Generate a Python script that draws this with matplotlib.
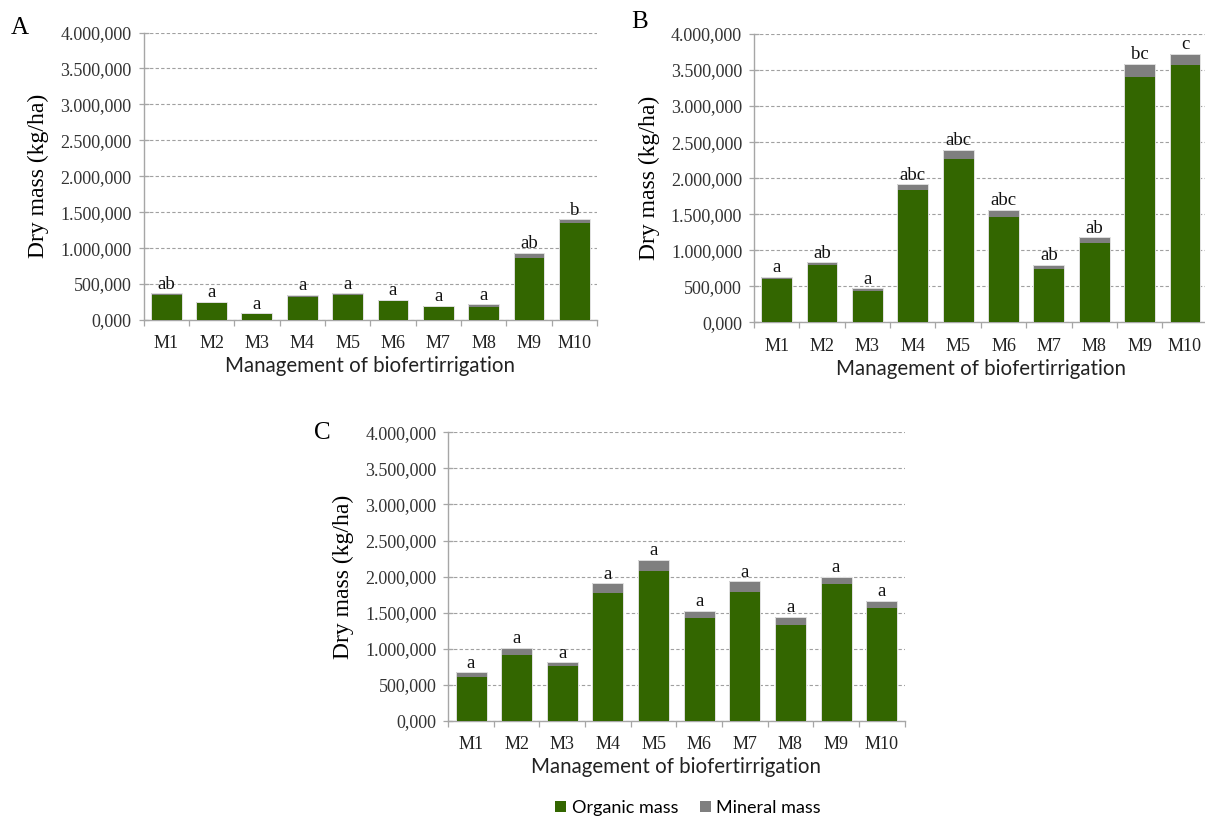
import matplotlib
matplotlib.use("Agg")
import matplotlib.pyplot as plt
from matplotlib.patches import Patch
import numpy as np

# Management treatments
categories = ["M1", "M2", "M3", "M4", "M5", "M6", "M7", "M8", "M9", "M10"]

# Panel A
organic_a = [345e3, 240e3, 80e3, 322e3, 345e3, 270e3, 190e3, 185e3, 868e3, 1350e3]
mineral_a = [25e3, 10e3, 13e3, 25e3, 25e3, 8e3, 9e3, 32e3, 67e3, 50e3]
letters_a = ["ab", "a", "a", "a", "a", "a", "a", "a", "ab", "b"]

# Panel B
organic_b = [600e3, 790e3, 435e3, 1833e3, 2260e3, 1462e3, 737e3, 1100e3, 3405e3, 3565e3]
mineral_b = [35e3, 40e3, 38e3, 80e3, 135e3, 100e3, 62e3, 78e3, 180e3, 160e3]
letters_b = ["a", "ab", "a", "abc", "abc", "abc", "ab", "ab", "bc", "c"]

# Panel C
organic_c = [613e3, 913e3, 766e3, 1772e3, 2080e3, 1421e3, 1790e3, 1324e3, 1896e3, 1568e3]
mineral_c = [60e3, 97e3, 46e3, 134e3, 148e3, 106e3, 143e3, 120e3, 102e3, 93e3]
letters_c = ["a"] * 10

y_ticks = [0, 500e3, 1000e3, 1500e3, 2000e3, 2500e3, 3000e3, 3500e3, 4000e3]
y_tick_labels = ["0,000", "500,000", "1.000,000", "1.500,000", "2.000,000",
                 "2.500,000", "3.000,000", "3.500,000", "4.000,000"]

GREEN = "#336600"
GREY = "#7f7f7f"
AXIS_GREY = "#a6a6a6"
SERIF = ["Liberation Serif", "DejaVu Serif"]
SANS = ["Lato", "DejaVu Sans"]

plt.rcParams["font.family"] = SERIF

fig = plt.figure(figsize=(12.05, 8.18), dpi=100)
W, H = 1205.0, 818.0


def px_axes(left, right, top, bottom):
    return fig.add_axes([left / W, 1 - bottom / H, (right - left) / W, (bottom - top) / H])


def draw_panel(ax, organic, mineral, letters):
    x = np.arange(len(categories))
    organic = np.asarray(organic)
    mineral = np.asarray(mineral)
    totals = organic + mineral
    ax.bar(x, organic, width=0.68, color=GREEN, linewidth=0, zorder=3)
    ax.bar(x, mineral, width=0.68, bottom=organic, color=GREY, linewidth=0, zorder=3)
    # thin light outline around each stacked column
    ax.bar(x, totals, width=0.68, fill=False, edgecolor="#e0e0e0", linewidth=0.7, zorder=3.5)
    for xi, t, lab in zip(x, totals, letters):
        ax.annotate(lab, (xi, t), xytext=(0, 0.5), textcoords="offset points",
                    ha="center", va="bottom", fontsize=13.5, color="#111111", zorder=4)
    ax.set_xlim(-0.5, len(categories) - 0.5)
    ax.set_ylim(0, 4.0e6)
    ax.set_yticks(y_ticks)
    ax.set_yticklabels(y_tick_labels, fontsize=13, color="#333333")
    ax.set_xticks(x)
    ax.set_xticklabels(categories, fontsize=13, color="#222222")
    ax.set_xticks(np.arange(len(categories) + 1) - 0.5, minor=True)
    ax.tick_params(axis="x", which="major", length=0, pad=11)
    ax.tick_params(axis="x", which="minor", length=4, width=0.9, color=AXIS_GREY, direction="out")
    ax.tick_params(axis="y", which="major", length=7, width=0.9, color=AXIS_GREY,
                   direction="inout", pad=5)
    for side in ("top", "right"):
        ax.spines[side].set_visible(False)
    for side in ("left", "bottom"):
        ax.spines[side].set_color(AXIS_GREY)
        ax.spines[side].set_linewidth(1.0)
    ax.yaxis.grid(True, linestyle=(0, (3, 2)), color="#a0a0a0", linewidth=0.8, zorder=0)
    ax.set_axisbelow(True)
    ax.set_ylabel("Dry mass (kg/ha)", fontsize=17, labelpad=8)
    ax.set_xlabel("Management of biofertirrigation", family=SANS, fontsize=14.8,
                  labelpad=3, color="#222222")


ax_a = px_axes(143.5, 597, 32.5, 320)
ax_b = px_axes(754, 1207.7, 34, 322.3)
ax_c = px_axes(448.2, 904.5, 432.2, 721)

draw_panel(ax_a, organic_a, mineral_a, letters_a)
draw_panel(ax_b, organic_b, mineral_b, letters_b)
draw_panel(ax_c, organic_c, mineral_c, letters_c)

fig.text(20 / W, 1 - 28 / H, "A", fontsize=18, ha="center", va="center")
fig.text(640 / W, 1 - 22 / H, "B", fontsize=18, ha="center", va="center")
fig.text(322 / W, 1 - 433 / H, "C", fontsize=18, ha="center", va="center")

handles = [Patch(facecolor=GREEN, label="Organic mass"),
           Patch(facecolor=GREY, label="Mineral mass")]
fig.legend(handles=handles, loc="center", bbox_to_anchor=(688 / W, 1 - 808 / H), ncol=2,
           frameon=False, prop={"family": SANS, "size": 13}, handlelength=0.6,
           handleheight=0.6, handletextpad=0.3, columnspacing=1.2)

fig.savefig("out.png", dpi=100)
